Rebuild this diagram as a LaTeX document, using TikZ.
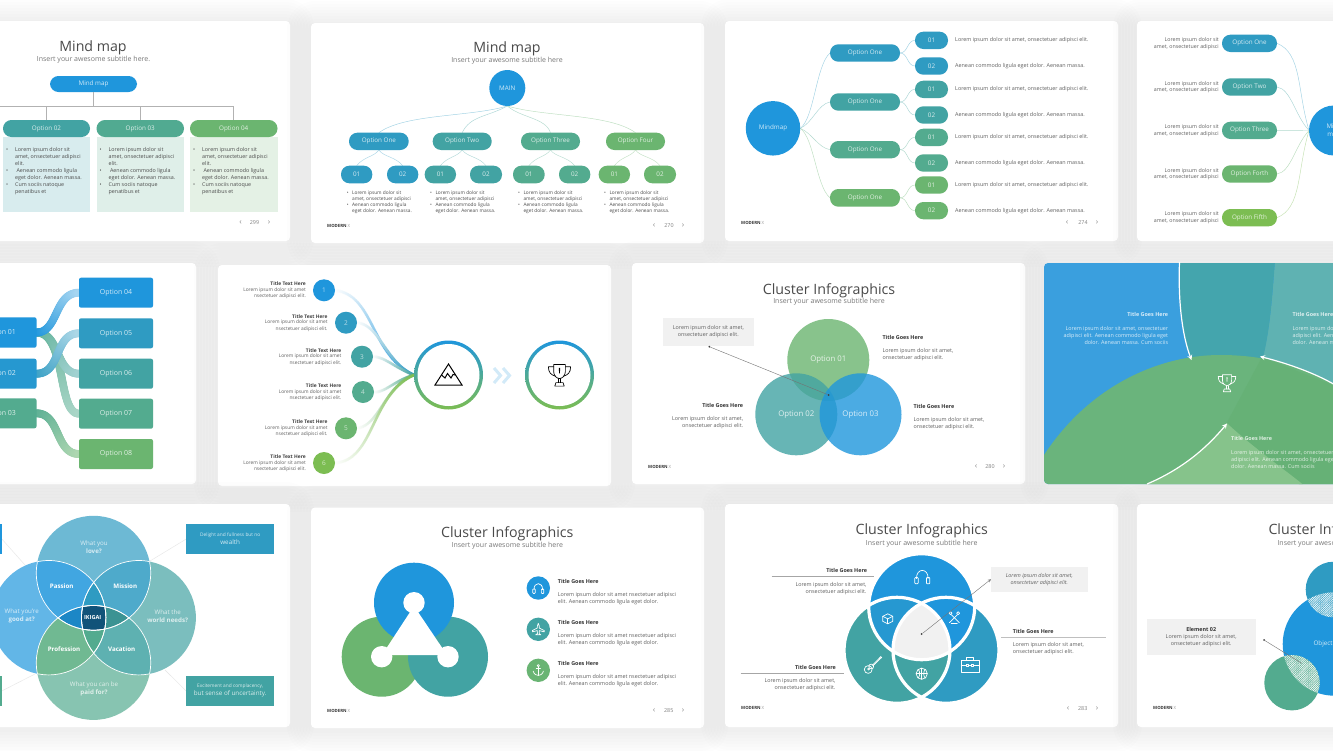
\documentclass[tikz,border=0pt]{standalone}
\usepackage{fontspec}
\setmainfont{Open Sans}
\usetikzlibrary{decorations.markings,patterns.meta}
\pgfdeclarelayer{slides}\pgfdeclarelayer{links}\pgfsetlayers{slides,links,main}
\definecolor{cb}{HTML}{1F96DC}\definecolor{cbt}{HTML}{2F9BC2}\definecolor{ct}{HTML}{42A3A3}
\definecolor{cg}{HTML}{53AB8F}\definecolor{cl}{HTML}{6BB570}\definecolor{cy}{HTML}{7CBD52}
\definecolor{txg}{HTML}{606060}\definecolor{ttlc}{HTML}{4A4A4A}\definecolor{boxg}{HTML}{F1F1F1}
\definecolor{pa}{HTML}{D8ECEE}\definecolor{pb}{HTML}{DFEFE9}\definecolor{pc}{HTML}{E4F1E5}
\definecolor{eblue}{HTML}{3A9FDE}\definecolor{emid}{HTML}{44A5AD}\definecolor{elight}{HTML}{5FB2B2}
\definecolor{egreen}{HTML}{6AB47C}\definecolor{edark}{HTML}{66B176}\definecolor{etri}{HTML}{86C38B}
\colorlet{raa}{cg!90}\colorlet{rab}{cg!50}\colorlet{rbb}{ct!50}\colorlet{rca}{cbt!95}\colorlet{rcb}{cbt!40}
\colorlet{rdb}{cb!40}\colorlet{rea}{cg!95}\colorlet{reb}{cl!55}
\tikzset{
 shp/.style={inner sep=0,outer sep=0,draw=none,text=white,text opacity=.8,font=\fontsize{6.3}{8}\selectfont,align=center},
 pillb/.style={shp,rounded corners=8.4pt},
 sqb/.style={shp,rounded corners=2pt,font=\fontsize{7}{8}\selectfont},
 flat/.style={shp},
 ttl/.style={inner sep=0,yshift=-1.5pt,text=ttlc,font=\fontsize{14.2}{16}\selectfont},
 subt/.style={inner sep=0,text=txg!85,font=\fontsize{7}{8}\selectfont},
 txc/.style={inner sep=0,text=txg,align=center,font=\fontsize{5.4}{7}\selectfont},
 txl/.style={inner sep=0,text=txg,align=left,anchor=west,font=\fontsize{5.4}{7}\selectfont},
 txr/.style={inner sep=0,text=txg,align=right,anchor=east,font=\fontsize{5.4}{7}\selectfont},
 hdl/.style={inner sep=0,text=black!80,anchor=west,font=\fontsize{5.4}{7}\selectfont\bfseries},
 hdr/.style={inner sep=0,text=black!80,anchor=east,font=\fontsize{5.4}{7}\selectfont\bfseries},
 wh/.style={text=white,text opacity=.8},
 dotn/.style={circle,fill=black!75,inner sep=0,minimum size=2pt},
 lead/.style={line width=.4pt,draw=black!55},
 lnk/.style={line width=.45pt},
 garr/.style={line width=1.2pt,draw=white,-{stealth}},
 ikt/.style={inner sep=0,align=center,text=white,font=\fontsize{6.2}{8}\selectfont},
 ikb/.style={inner sep=0,align=center,text=white,font=\fontsize{6.2}{8}\selectfont\bfseries},
}
\newcommand\slide[4]{\begin{pgfonlayer}{slides}
 \foreach \g in {24,21,18,15,12,9,6,3}{\fill[black,opacity=.009,rounded corners={(4+\g)*1pt}] ({#1-\g},{#2-\g+2}) rectangle ({#3+\g},{#4+\g+2});}
 \fill[white,rounded corners=4pt] (#1,#2) rectangle (#3,#4);
 \end{pgfonlayer}}
\newcommand\bx[8]{\node[#1,fill=#3,minimum width={(#6-(#4))*1pt},minimum height={(#7-(#5))*1pt}] (#2) at ({((#4)+(#6))/2},{((#5)+(#7))/2}) {#8};}
\newcommand\navb[6]{\node[inner sep=0,text=black!45,font=\fontsize{8}{9}\selectfont] (#1a) at (#2,#5) {‹};
 \node[inner sep=0,text=black!50,font=\fontsize{5.4}{6}\selectfont] (#1b) at (#3,#5) {#6};
 \node[inner sep=0,text=black!45,font=\fontsize{8}{9}\selectfont] (#1c) at (#4,#5) {›};}
\newcommand\modern[3]{\node[inner sep=0,anchor=west,text=black!80,font=\fontsize{4.3}{6}\selectfont] (#1) at (#2,#3) {\textbf{MODERN} {\color{black!40}X}};}
\newcommand\gradpath[4]{\begin{pgfonlayer}{links}\path[postaction={decorate},decoration={markings,mark=between positions 0 and 1 step .8pt with {\pgfmathsetmacro\gp{min(100,100*\pgfkeysvalueof{/pgf/decoration/mark info/distance from start}/\pgfdecoratedpathlength)}\fill[color=#2!\gp!#1] (0,0) circle ({#3/2*1pt});}}] #4;\end{pgfonlayer}}
\newcommand\rtwo[3]{\begin{scope}\clip #2;\fill[#1] #3;\end{scope}}
\newcommand\rthree[4]{\begin{scope}\clip #2;\clip #3;\fill[#1] #4;\end{scope}}
\newcommand\rfour[5]{\begin{scope}\clip #2;\clip #3;\clip #4;\fill[#1] #5;\end{scope}}
\newcommand\icon[5]{\begin{scope}[shift={(#1,#2)},scale=#3,color=#4,line width=.7pt,line join=round,line cap=round]#5\end{scope}}
\newcommand\icoTrophy{\draw (-5,-9)--(5,-9)--(5,-3) .. controls (5,1) and (2,3) .. (0,3) .. controls (-2,3) and (-5,1) .. (-5,-3)--cycle;
 \draw (-5,-7)--(-9.5,-7) .. controls (-9.5,-2) and (-7,0) .. (-3.5,1);\draw (5,-7)--(9.5,-7) .. controls (9.5,-2) and (7,0) .. (3.5,1);
 \draw (-1,3)--(-1,6.5);\draw (1,3)--(1,6.5);\draw (-3,6.5)--(3,6.5)--(4,9.5)--(-4,9.5)--cycle;\fill (-.6,-6)--(.6,-6)--(.3,-1.5)--(-.3,-1.5)--cycle;}
\newcommand\icoHead{\draw (-5,2) .. controls (-5.5,-7.5) and (5.5,-7.5) .. (5,2);\draw[rounded corners=.8pt] (-6.5,1) rectangle (-3.6,6.5);\draw[rounded corners=.8pt] (3.6,1) rectangle (6.5,6.5);}
\newcommand\icoPlane{\draw (0,-7) .. controls (1.2,-6) and (1.2,-2) .. (1.2,-1.5)--(7,1.5)--(7,3)--(1.2,1.5)--(1,5)--(3,6.5)--(-3,6.5)--(-1,5)--(-1.2,1.5)--(-7,3)--(-7,1.5)--(-1.2,-1.5) .. controls (-1.2,-2) and (-1.2,-6) .. (0,-7)--cycle;}
\newcommand\icoAnchor{\draw (0,-5.5) circle (1.3);\draw (0,-4.2)--(0,6);\draw (-2.5,-2)--(2.5,-2);\draw (-6,1) .. controls (-5,5) and (-2,6) .. (0,6) .. controls (2,6) and (5,5) .. (6,1);}
\newcommand\icoCube{\draw (-5,-2)--(0,-4.5)--(5,-2)--(5,3)--(0,5.5)--(-5,3)--cycle;\draw (-5,-2)--(0,.5)--(5,-2);\draw (0,.5)--(0,5.5);}
\newcommand\icoSticks{\draw (-5,5)--(3,-3);\draw (5,5)--(-3,-3);\draw (-3.8,-4.5) circle (1.5);\draw (3.8,-4.5) circle (1.5);\draw (-3,5.5)--(3,5.5);}
\newcommand\icoGuitar{\draw (-4.5,4.5) circle (3.9);\draw (-1.5,1.5) circle (2.4);\draw (-4,4) circle (1);\draw (-.5,.3)--(6.5,-6.7);\draw (.3,.9)--(7.2,-6);\draw (6.3,-6.5)--(8,-8.5)--(9,-7.5)--(7,-5.8);}
\newcommand\icoBall{\draw (0,0) circle (5.6);\draw (-5.6,0)--(5.6,0);\draw (0,-5.6)--(0,5.6);\draw (-3.5,-4.4) .. controls (-1.5,-2) and (-1.5,2) .. (-3.5,4.4);\draw (3.5,-4.4) .. controls (1.5,-2) and (1.5,2) .. (3.5,4.4);}
\newcommand\icoCase{\draw (-9,-4.5) rectangle (9,7);\draw (-3.5,-4.5)--(-3.5,-7.5)--(3.5,-7.5)--(3.5,-4.5);\draw (-9,.5)--(-3.5,.5);\draw (3.5,.5)--(9,.5);\draw (-3.5,-.7) rectangle (-1.5,1.7);\draw (1.5,-.7) rectangle (3.5,1.7);\draw (-1.5,.5)--(1.5,.5);}
\newcommand\sonep[6]{%
 \bx{flat}{s1p#1}{#5}{#2}{137}{#3}{212}{}
 \bx{pillb}{s1o#1}{#4}{#2}{120}{#3}{137}{#6}
 \draw[line width=.6pt,draw=black!30] (s1o#1.north) -- ++(0,-14);
 \node[txl,text=black!70,font=\fontsize{5.35}{6.95}\selectfont] (s1x#1) at ({#2+3},171) {\makebox[9pt][l]{•}Lorem ipsum dolor sit\\\hspace*{9pt}amet, onsectetuer adipisci\\\hspace*{9pt}elit.\\\makebox[9pt][l]{•} Aenean commodo ligula\\\hspace*{9pt}eget dolor. Aenean massa.\\\makebox[9pt][l]{•}Cum sociis natoque\\\hspace*{9pt}penatibus et};}
\newcommand\stwoblock[3]{\node[txl,text=black!70,font=\fontsize{4.8}{5.95}\selectfont] (#1) at (#2,#3) {\makebox[5.3pt][l]{•}Lorem ipsum dolor sit\\\hspace*{5.3pt}amet, onsectetuer adipisci\\\makebox[5.3pt][l]{•}Aenean commodo ligula\\\hspace*{5.3pt}eget dolor. Aenean massa.};}
\newcommand\sixitem[5]{%
 \node[circle,fill=#4,inner sep=0,outer sep=0,minimum size=22pt,text=white,text opacity=.65,font=\fontsize{6.5}{7}\selectfont] (s6c#1) at (#2,#3) {#1};
 \node[hdr,text=black!75,font=\fontsize{4.9}{6}\selectfont\bfseries] (s6h#1) at (#5,{#3-6.4}) {Title Text Here};
 \node[txr,font=\fontsize{4.85}{6.4}\selectfont] (s6b#1) at (#5,{#3+3.1}) {Lorem ipsum dolor sit amet\\nsectetuer adipisci elit.};}
\def\LT{Lorem ipsum dolor sit amet,\\onsectetuer adipisci elit.}
\def\LG{Lorem ipsum dolor sit amet, onsectetuer\\adipisci elit. Aenean commodo ligula eget\\dolor. Aenean massa. Cum sociis}
\def\cT{(93.5,573) circle (57.2pt)}\def\cB{(93.5,662.7) circle (57.2pt)}\def\cL{(48.7,617.7) circle (57.2pt)}\def\cR{(138.7,617.7) circle (57.2pt)}
\def\dA{(921.7,606.7) circle (53pt)}\def\dB{(897,650.3) circle (53pt)}\def\dC{(946,650.3) circle (53pt)}
\def\fBlue{(1334.4,644) circle (51.7pt)}\def\fTeal{(1333.5,589.5) circle (27.8pt)}\def\fGreen{(1292,682.7) circle (27.7pt)}
\begin{document}
\begin{tikzpicture}[x=1pt,y=-1pt]
\useasboundingbox (0,0) rectangle (1333,750);
\begin{pgfonlayer}{slides}\fill[white] (0,0) rectangle (1333,750);\end{pgfonlayer}
% ---------- slide 1
\slide{-110}{21}{290}{241}
\node[ttl] (s1t) at (93,46) {Mind map};
\node[subt] (s1s) at (93.5,59.5) {Insert your awesome subtitle here.};
\bx{pillb}{s1m}{cb}{50}{76}{137}{92}{Mind map}
\sonep{2}{3}{90}{ct}{pa}{Option 02}
\sonep{3}{96.5}{184}{cg!90!ct}{pb}{Option 03}
\sonep{4}{190}{277.5}{cl}{pc}{Option 04}
\coordinate (s1bl) at (0,106.5);\coordinate (s1br) at (234,106.5);
\draw[line width=.6pt,draw=black!30] (s1bl) -- (s1br);
\draw[line width=.6pt,draw=black!30] (s1m.south) -- ++(0,14.5);
\navb{s1n}{240.5}{254.5}{269}{223}{299}
% ---------- slide 2
\slide{311}{23}{704}{243}
\node[ttl] (s2t) at (507,47) {Mind map};
\node[subt] (s2s) at (507,61) {Insert your awesome subtitle here};
\node[circle,fill=cb,inner sep=0,outer sep=0,minimum size=36pt,text=white,text opacity=.8,font=\fontsize{6.3}{8}\selectfont] (s2m) at (507.3,88) {MAIN};
\bx{pillb}{s2a}{cbt}{349}{132.7}{408.7}{150}{Option One}
\bx{pillb}{s2b}{ct}{432.7}{132.7}{491.7}{150}{Option Two}
\bx{pillb}{s2c}{cg}{521}{132.7}{580}{150}{Option Three}
\bx{pillb}{s2d}{cl}{606}{132.7}{665}{150}{Option Four}
\bx{pillb}{s2a1}{cbt}{341}{165.7}{372.3}{183.3}{01}
\bx{pillb}{s2a2}{cbt}{387}{165.7}{418.3}{183.3}{02}
\bx{pillb}{s2b1}{ct}{424.7}{165.7}{456}{183.3}{01}
\bx{pillb}{s2b2}{ct}{470}{165.7}{502}{183.3}{02}
\bx{pillb}{s2c1}{cg}{513}{165.7}{544.7}{183.3}{01}
\bx{pillb}{s2c2}{cg}{559}{165.7}{590.3}{183.3}{02}
\bx{pillb}{s2d1}{cl}{598.7}{165.7}{630}{183.3}{01}
\bx{pillb}{s2d2}{cl}{644}{165.7}{676}{183.3}{02}
\begin{pgfonlayer}{links}
\draw[lnk,draw=cbt!45] (s2m.south) .. controls +(-37,11) and +(26,-19) .. (s2a.north);
\draw[lnk,draw=ct!45] (s2m.south) .. controls +(-20,11) and +(8,-17) .. (s2b.north);
\draw[lnk,draw=cg!45] (s2m.south) .. controls +(14,12) and +(-5,-15) .. (s2c.north);
\draw[lnk,draw=cl!45] (s2m.south) .. controls +(37,11) and +(-26,-19) .. (s2d.north);
\foreach \p/\c in {a/cbt,b/ct,c/cg,d/cl}{
\draw[lnk,draw=\c!40] (s2\p.south) .. controls +(-5,7) and +(7,-9) .. (s2\p1.north);
\draw[lnk,draw=\c!40] (s2\p.south) .. controls +(5,7) and +(-7,-9) .. (s2\p2.north);}
\end{pgfonlayer}
\stwoblock{s2x1}{346.7}{202.5}\stwoblock{s2x2}{430}{202.5}\stwoblock{s2x3}{518}{202.5}\stwoblock{s2x4}{604}{202.5}
\modern{s2k}{327}{225.7}\navb{s2n}{654}{669}{683}{225.5}{270}
% ---------- slide 3
\slide{725}{21}{1118}{241}
\node[circle,fill=cb,inner sep=0,outer sep=0,minimum size=54.5pt,text=white,text opacity=.8,font=\fontsize{6.3}{8}\selectfont] (s3m) at (773,128.3) {Mindmap};
\bx{pillb}{s3a}{cbt}{830}{44.3}{900}{61.7}{Option One}
\bx{pillb}{s3b}{ct}{830}{93.3}{900}{110.7}{Option One}
\bx{pillb}{s3c}{cg}{830}{141}{900}{158.3}{Option One}
\bx{pillb}{s3d}{cl}{830}{189}{900}{206.7}{Option One}
\bx{pillb}{s3a1}{cbt}{915}{31.7}{948}{49}{01}
\bx{pillb}{s3a2}{cbt}{915}{57.3}{948}{74.7}{02}
\bx{pillb}{s3b1}{ct}{915}{80.7}{948}{98}{01}
\bx{pillb}{s3b2}{ct}{915}{106.3}{948}{123.7}{02}
\bx{pillb}{s3c1}{cg}{915}{128.7}{948}{146}{01}
\bx{pillb}{s3c2}{cg}{915}{154.3}{948}{171.7}{02}
\bx{pillb}{s3d1}{cl}{915}{176.3}{948}{193.7}{01}
\bx{pillb}{s3d2}{cl}{915}{202}{948}{219.3}{02}
\begin{pgfonlayer}{links}
\draw[lnk,draw=cbt!45] (s3m.east) .. controls +(14,-10) and +(-14,12) .. (s3a.west);
\draw[lnk,draw=ct!45] (s3m.east) .. controls +(12,-5) and +(-12,2) .. (s3b.west);
\draw[lnk,draw=cg!45] (s3m.east) .. controls +(12,5) and +(-12,-2) .. (s3c.west);
\draw[lnk,draw=cl!45] (s3m.east) .. controls +(14,10) and +(-14,-12) .. (s3d.west);
\foreach \p/\c in {a/cbt,b/ct,c/cg,d/cl}{
\draw[lnk,draw=\c!45] (s3\p.east) .. controls +(8,0) and +(-8,0) .. (s3\p1.west);
\draw[lnk,draw=\c!45] (s3\p.east) .. controls +(8,0) and +(-8,0) .. (s3\p2.west);}
\end{pgfonlayer}
\foreach \n/\y in {1/40.3,3/89.3,5/137.3,7/185}{\node[txl] (s3x\n) at (955,\y) {Lorem ipsum dolor sit amet, onsectetuer adipisci elit.};}
\foreach \n/\y in {2/66,4/115,6/163,8/210.6}{\node[txl] (s3x\n) at (955,\y) {Aenean commodo ligula eget dolor. Aenean massa.};}
\modern{s3k}{741}{223}\navb{s3n}{1067}{1083}{1097}{223}{274}
% ---------- slide 4
\slide{1137}{21}{1500}{241}
\node[circle,fill=cb,inner sep=0,outer sep=0,minimum size=50pt,text=white,text opacity=.8,align=center,font=\fontsize{6.3}{8}\selectfont] (s4m) at (1334,130.5) {Mind\\map};
\bx{pillb}{s4a}{cbt}{1222}{34.7}{1277}{52}{Option One}
\bx{pillb}{s4b}{ct}{1222}{78.3}{1277}{95.7}{Option Two}
\bx{pillb}{s4c}{cg}{1222}{121.7}{1277}{139}{Option Three}
\bx{pillb}{s4d}{cl}{1222}{165.3}{1277}{182.7}{Option Forth}
\bx{pillb}{s4e}{cy}{1222}{209}{1277}{226.3}{Option Fifth}
\begin{pgfonlayer}{links}
\draw[lnk,draw=cbt!45] (s4a.east) .. controls +(25,10) and +(-12,-40) .. (s4m.west);
\draw[lnk,draw=ct!45] (s4b.east) .. controls +(14,2) and +(-14,-15) .. (s4m.west);
\draw[lnk,draw=cg!45] (s4c.east) -- (s4m.west);
\draw[lnk,draw=cl!45] (s4d.east) .. controls +(14,-2) and +(-14,15) .. (s4m.west);
\draw[lnk,draw=cy!45] (s4e.east) .. controls +(25,-10) and +(-12,40) .. (s4m.west);
\end{pgfonlayer}
\foreach \n/\y in {a/43.4,b/87,c/130.3,d/174,e/217.6}{\node[txr,font=\fontsize{5.3}{6.7}\selectfont] (s4x\n) at (1219,\y) {Lorem ipsum dolor sit\\amet, onsectetuer adipisci};}
% ---------- slide 5
\slide{-200}{263}{196}{484}
\bx{sqb}{s5a}{cb}{-37}{317.3}{36.5}{347.7}{Option 01}
\bx{sqb}{s5b}{cb!55!cbt}{-37}{358.7}{36.5}{388.7}{Option 02}
\bx{sqb}{s5c}{cg}{-37}{398.3}{36.5}{428.3}{Option 03}
\bx{sqb}{s5d}{cb}{79}{277.7}{153}{307.7}{Option 04}
\bx{sqb}{s5e}{cbt}{79}{318.3}{153}{348.3}{Option 05}
\bx{sqb}{s5f}{ct}{79}{358.7}{153}{388.7}{Option 06}
\bx{sqb}{s5g}{cg}{79}{398.7}{153}{428.7}{Option 07}
\bx{sqb}{s5h}{cl}{79}{439}{153}{469}{Option 08}
\gradpath{raa}{rab}{8}{(s5a.east) .. controls +(30,0) and +(-22,0) .. (s5g.west)}
\gradpath{raa}{rbb}{8}{(s5a.east) .. controls +(24,0) and +(-24,0) .. (s5f.west)}
\gradpath{rca}{rcb}{8}{(s5b.east) .. controls +(25,0) and +(-25,0) .. (s5e.west)}
\gradpath{cb}{rdb}{8}{(s5a.east) .. controls +(22,0) and +(-25,0) .. (s5d.west)}
\gradpath{rea}{reb}{8}{(s5c.east) .. controls +(24,0) and +(-24,0) .. (s5h.west)}
% ---------- slide 6
\slide{218}{265}{611}{486}
\sixitem{1}{324}{290.3}{cb}{306}
\sixitem{2}{346}{322.7}{cbt}{327.7}
\sixitem{3}{362}{356.7}{ct}{341.5}
\sixitem{4}{363}{392}{cg}{341.5}
\sixitem{5}{346}{428.3}{cl}{327.7}
\sixitem{6}{324}{463}{cy}{306}
\node[circle,inner sep=0,outer sep=0,minimum size=69pt,top color=cb,bottom color=cy] (s6r) at (448.5,375) {};
\node[circle,inner sep=0,fill=white,minimum size=62pt] (s6ri) at (s6r) {};
\node[circle,inner sep=0,outer sep=0,minimum size=69pt,top color=cb,bottom color=cy] (s6q) at (559.5,375) {};
\node[circle,inner sep=0,fill=white,minimum size=62pt] (s6qi) at (s6q) {};
\coordinate (s6w) at (s6r.west);
\gradpath{white}{cb}{3}{(s6c1.east) .. controls +(40,5) and +(-44,-20) .. (s6w)}
\gradpath{white}{cbt}{3}{(s6c2.east) .. controls +(23,2) and +(-29,-13) .. (s6w)}
\gradpath{white}{ct}{3}{(s6c3.east) .. controls +(12,0) and +(-19,-7) .. (s6w)}
\gradpath{white}{cg}{3}{(s6c4.east) .. controls +(11,1) and +(-19,5) .. (s6w)}
\gradpath{white}{cl}{3}{(s6c5.east) .. controls +(23,-3) and +(-29,10) .. (s6w)}
\gradpath{white}{cy}{3}{(s6c6.east) .. controls +(40,-3) and +(-44,20) .. (s6w)}
\draw[line width=3pt,draw=cb!20] (494,368)--(500.5,375.5)--(494,383);
\draw[line width=3pt,draw=cb!20] (503,368)--(509.5,375.5)--(503,383);
\begin{scope}[line width=1pt,line join=miter,black]
\draw (435,385)--(448.5,364)--(462,385)--cycle;
\draw (441.5,375)--(445,378)--(447.5,373.5)--(451,378)--(453,374.5)--(455.5,375);
\end{scope}
\icon{559.5}{375}{1.17}{black}{\icoTrophy}
% ---------- slide 7
\slide{632}{263}{1025}{484}
\node[ttl] (s7t) at (829,289) {Cluster Infographics};
\node[subt] (s7s) at (829,302) {Insert your awesome subtitle here};
\fill[cl,opacity=.8] (828.3,360) circle (41pt);
\fill[ct,opacity=.8] (796.3,414.3) circle (41pt);
\fill[cb,opacity=.8] (860.5,414.3) circle (41pt);
\node[inner sep=0,wh,font=\fontsize{7.8}{9}\selectfont] (s7o1) at (828.3,360) {Option 01};
\node[inner sep=0,wh,font=\fontsize{7.8}{9}\selectfont] (s7o2) at (796.3,414.3) {Option 02};
\node[inner sep=0,wh,font=\fontsize{7.8}{9}\selectfont] (s7o3) at (860.5,414.3) {Option 03};
\bx{flat}{s7b}{boxg}{662.7}{318.3}{754}{345.7}{}
\node[txc] (s7bt) at (s7b) {\LT};
\node[dotn] (s7d1) at (709.3,346.7) {};\node[dotn] (s7d2) at (828.7,395) {};
\draw[lead] (s7d1) -- (s7d2);
\node[hdl] (s7h1) at (882.3,337.3) {Title Goes Here};
\node[txl] (s7x1) at (882.3,354.8) {\LT};
\node[hdr] (s7h2) at (743.3,405) {Title Goes Here};
\node[txr] (s7x2) at (743.3,422.5) {\LT};
\node[hdl] (s7h3) at (913.3,406.3) {Title Goes Here};
\node[txl] (s7x3) at (913.3,423.8) {\LT};
\modern{s7k}{648}{466.7}\navb{s7n}{976}{990}{1004}{466.7}{280}
% ---------- slide 8
\slide{1044}{263}{1500}{484}
\begin{scope}
\clip[rounded corners=4pt] (1044,263) rectangle (1500,484);
\fill[eblue] (1040,260) rectangle (1340,490);
\fill[elight] (1275,260) .. controls (1272,300) and (1270,330) .. (1262,360) -- (1340,400) -- (1340,260) -- cycle;
\fill[emid] (1179.5,260) .. controls (1178,300) and (1182,335) .. (1192,362) -- (1262,362) .. controls (1270,330) and (1272,300) .. (1275,260) -- cycle;
\fill[egreen] (1044,455) .. controls (1090,385) and (1160,355) .. (1220,355) .. controls (1265,355) and (1300,365) .. (1340,388) -- (1340,490) -- (1040,490) -- cycle;
\fill[edark] (1262,357) -- (1340,388) -- (1340,490) -- (1306,490) -- (1226.7,423) -- cycle;
\fill[etri] (1226.7,423) .. controls (1205,450) and (1180,470) .. (1146,484.5) -- (1303,484.5) .. controls (1285,470) and (1250,445) .. (1226.7,423) -- cycle;
\end{scope}
\coordinate (s8a1) at (1179.5,262);\coordinate (s8b1) at (1191.5,360);
\coordinate (s8a2) at (1340,388);\coordinate (s8b2) at (1260,356.5);
\coordinate (s8a3) at (1147,484);\coordinate (s8b3) at (1227,423.5);
\draw[garr] (s8a1) .. controls (1178,300) and (1182,335) .. (s8b1);
\draw[garr] (s8a2) .. controls (1320,375) and (1290,364) .. (s8b2);
\draw[garr] (s8a3) .. controls (1180,470) and (1205,450) .. (s8b3);
\icon{1227}{383}{.92}{white}{\icoTrophy}
\node[hdr,wh] (s8h1) at (1168.3,314.3) {Title Goes Here};
\node[txr,wh] (s8x1) at (1168.3,335.4) {\LG};
\node[hdl,wh] (s8h2) at (1292.3,314.3) {Title Goes Here};
\node[txl,wh] (s8x2) at (1292.3,335.4) {\LG};
\node[hdl,wh] (s8h3) at (1231,438.3) {Title Goes Here};
\node[txl,wh] (s8x3) at (1231,459.3) {\LG};
% ---------- slide 9
\slide{-110}{504}{290}{727}
\fill[cbt!70] \cT;\fill[cb!70] \cL;\fill[ct!70] \cR;\fill[cg!70] \cB;
\rtwo{cb!85}{\cT}{\cL}
\rtwo{cbt!85!white}{\cT}{\cR}
\rtwo{cg!60!cl!88}{\cL}{\cB}
\rtwo{ct!85}{\cR}{\cB}
\rthree{cbt}{\cL}{\cR}{\cT}
\rthree{cg}{\cL}{\cR}{\cB}
\rthree{cb!90!black}{\cT}{\cB}{\cL}
\rthree{ct!90!black}{\cT}{\cB}{\cR}
\rfour{cb!55!black}{\cL}{\cR}{\cT}{\cB}
\foreach \pa/\pb in {\cT/\cL,\cT/\cR,\cT/\cB,\cB/\cL,\cB/\cR,\cB/\cT,\cL/\cT,\cL/\cB,\cL/\cR,\cR/\cT,\cR/\cB,\cR/\cL}{
\begin{scope}\clip \pb;\draw[white,line width=.7pt] \pa;\end{scope}}
\node[ikt,text opacity=.75] (s9a) at (94,547) {What you\\\textbf{love?}};
\node[ikb] (s9b) at (61.7,585.7) {Passion};
\node[ikb] (s9c) at (125.3,585.7) {Mission};
\node[ikb] (s9d) at (64,649) {Profession};
\node[ikb] (s9e) at (121.7,649) {Vacation};
\node[ikb,font=\fontsize{5.6}{8}\selectfont\bfseries] (s9f) at (92.7,617.3) {IKIGAI};
\node[ikt,text opacity=.75] (s9g) at (21.7,616.3) {What you're\\\textbf{good at?}};
\node[ikt,text opacity=.75] (s9h) at (167.7,616.3) {What the\\\textbf{world needs?}};
\node[ikt,text opacity=.75] (s9i) at (94,689.3) {What you can be\\\textbf{paid for?}};
\bx{flat}{s9j}{cbt}{186}{524.3}{274.3}{554}{\fontsize{4.8}{6.6}\selectfont Delight and fullness but no\\wealth}
\bx{flat}{s9k}{ct}{186}{676}{274.3}{705.7}{\fontsize{4.8}{6.6}\selectfont Excitement and complacency,\\but sense of uncertainty.}
\bx{flat}{s9l}{cb}{-60}{524.3}{2}{554}{}
\bx{flat}{s9m}{cg}{-60}{676}{2}{705.7}{}
\coordinate (s9p1) at (150,561);\coordinate (s9p2) at (165,670);\coordinate (s9p3) at (25,565);\coordinate (s9p4) at (35,674);
\begin{pgfonlayer}{links}
\draw[line width=.4pt,draw=black!10] (s9j.west) -- (s9p1);
\draw[line width=.4pt,draw=black!10] (s9k.west) -- (s9p2);
\draw[line width=.4pt,draw=black!10] (s9l.east) -- (s9p3);
\draw[line width=.4pt,draw=black!10] (s9m.east) -- (s9p4);
\end{pgfonlayer}
% ---------- slide 10
\slide{311}{507.5}{704}{728}
\node[ttl] (s10t) at (507.3,532.3) {Cluster Infographics};
\node[subt] (s10s) at (507.3,546) {Insert your awesome subtitle here};
\fill[cl] (381.7,656.7) circle (40pt);
\fill[ct] (448,656.7) circle (40pt);
\fill[cb] (414,602.7) circle (40pt);
\fill[white] (414,606) -- (382,655) -- (447,655) -- cycle;
\fill[white] (414,602.7) circle (10.7pt);
\fill[white] (381.7,656.7) circle (10.7pt);
\fill[white] (448,656.7) circle (10.7pt);
\node[circle,fill=cb,inner sep=0,minimum size=23.4pt] (s10a) at (538.3,588) {};
\node[circle,fill=ct,inner sep=0,minimum size=23.4pt] (s10b) at (538.3,629.3) {};
\node[circle,fill=cl!90!cg,inner sep=0,minimum size=23.4pt] (s10c) at (538.3,670.3) {};
\icon{538.3}{588}{.85}{white}{\icoHead}
\icon{538.3}{629.3}{.85}{white}{\icoPlane}
\icon{538.3}{670.3}{.85}{white}{\icoAnchor}
\foreach \n/\y in {1/581.3,2/622.3,3/663.3}{
\node[hdl] (s10h\n) at (557.7,\y) {Title Goes Here};
\node[txl] (s10x\n) at (557.7,{\y+17.3}) {Lorem ipsum dolor sit amet nsectetuer adipisci\\elit. Aenean commodo ligula eget dolor.};}
\modern{s10k}{327}{710.7}\navb{s10n}{654}{668.7}{683}{710.7}{285}
% ---------- slide 11
\slide{725}{504}{1118}{727}
\node[ttl] (s11t) at (921.7,529.3) {Cluster Infographics};
\node[subt] (s11s) at (921.7,543.3) {Insert your awesome subtitle here};
\fill[ct] \dB;\fill[cbt] \dC;\fill[cb] \dA;
\rtwo{ct}{\dB}{\dC}
\rtwo{cb!80!ct}{\dA}{\dB}
\rtwo{cb}{\dA}{\dC}
\rthree{boxg}{\dA}{\dB}{\dC}
\draw[white,line width=3.2pt] \dA;\draw[white,line width=3.2pt] \dB;\draw[white,line width=3.2pt] \dC;
\icon{922.3}{576.3}{1.15}{white}{\icoHead}
\icon{887.7}{618.3}{1}{white}{\icoCube}
\icon{954.3}{617.7}{1}{white}{\icoSticks}
\icon{872.7}{665}{1}{white}{\icoGuitar}
\icon{921.7}{673.7}{1}{white}{\icoBall}
\icon{970.3}{665}{1}{white}{\icoCase}
\bx{flat}{s11b}{boxg}{991}{566.7}{1087.7}{591.7}{}
\node[txc,font=\fontsize{5.4}{7}\selectfont\itshape] (s11bt) at (s11b) {\LT};
\node[dotn] (s11d) at (921.7,634) {};
\draw[lead,-{stealth}] (s11d) -- (s11b.west);
\node[hdr] (s11h1) at (867.3,570.7) {Title Goes Here};
\node[txr] (s11x1) at (866.7,588.2) {\LT};
\coordinate (s11l1a) at (771.7,576.3);\coordinate (s11l1b) at (874.3,576.3);
\draw[line width=.5pt,draw=black!35] (s11l1a) -- (s11l1b);
\node[hdr] (s11h2) at (836,667.7) {Title Goes Here};
\node[txr] (s11x2) at (835.7,685) {\LT};
\coordinate (s11l2a) at (740.7,673.3);\coordinate (s11l2b) at (844,673.3);
\draw[line width=.5pt,draw=black!35] (s11l2a) -- (s11l2b);
\node[hdl] (s11h3) at (1012.7,631.3) {Title Goes Here};
\node[txl] (s11x3) at (1012.7,648.7) {\LT};
\coordinate (s11l3a) at (1001,637.7);\coordinate (s11l3b) at (1105.7,637.7);
\draw[line width=.5pt,draw=black!25] (s11l3a) -- (s11l3b);
\modern{s11k}{741}{708.3}\navb{s11n}{1068}{1082.7}{1097}{708.3}{283}
% ---------- slide 12
\slide{1137}{504}{1500}{727}
\node[ttl,anchor=west] (s12t) at (1268.3,529.7) {Cluster Infographics};
\node[subt,anchor=west] (s12s) at (1277.3,543.3) {Insert your awesome subtitle here};
\fill[cb] \fBlue;\fill[cbt] \fTeal;
\begin{scope}\clip \fBlue;\fill[pattern={Lines[angle=45,distance=1.3pt,line width=.6pt]},pattern color=white] \fTeal;\end{scope}
\fill[cg] \fGreen;
\begin{scope}\clip \fBlue;\fill[pattern={Lines[angle=45,distance=1.3pt,line width=.6pt]},pattern color=white] \fGreen;\end{scope}
\node[inner sep=0,anchor=west,wh,font=\fontsize{6.3}{8}\selectfont] (s12o) at (1313.3,644) {Object 01};
\bx{flat}{s12b}{boxg}{1146.7}{619.3}{1255.7}{655}{}
\node[txc] (s12bt) at (s12b) {\textbf{\color{black!80}Element 02}\\\LT};
\node[dotn] (s12d1) at (1264,640) {};\coordinate (s12d2) at (1301.7,663.3);
\draw[lead] (s12d1) -- (s12d2);
\modern{s12k}{1153}{708.3}
\end{tikzpicture}
\end{document}
